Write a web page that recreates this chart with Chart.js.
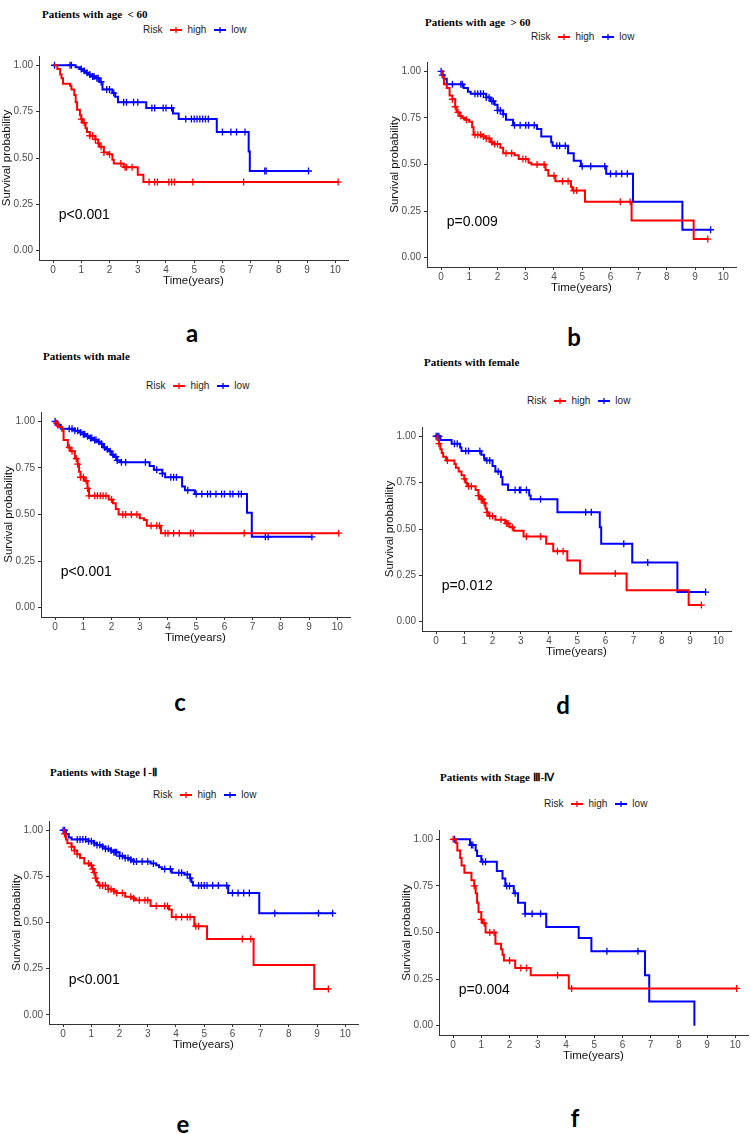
<!DOCTYPE html>
<html>
<head>
<meta charset="utf-8">
<script src="https://cdn.jsdelivr.net/npm/chart.js@4.4.0/dist/chart.umd.min.js"></script>
<style>
  html, body { margin: 0; padding: 0; background: #fff; }
  #page { position: relative; width: 751px; height: 1134px; overflow: hidden; font-family: "Liberation Sans", Arial, sans-serif; }
  #page canvas { position: absolute; }
  .ptitle { position: absolute; font: bold 11px "Liberation Serif", "Times New Roman", serif; line-height: 14px; white-space: pre; color: #000; }
  .legend { position: absolute; display: flex; align-items: center; font-size: 10px; line-height: 14px; white-space: nowrap; color: #222; }
  .legend svg { display: block; }
  .letter { position: absolute; font: bold 24px Lato, "Open Sans", sans-serif; line-height: 1; transform: translate(-50%, -50%); color: #000; }
</style>
</head>
<body>
<div id="page"></div>
<script>
// ---- shared axis ticks / groups ----
const xTicks = [0, 1, 2, 3, 4, 5, 6, 7, 8, 9, 10];
const yTicks = [0, 0.25, 0.5, 0.75, 1];
const riskGroups = ["high", "low"];

// ---- a: age < 60 ----
const aHighTime = [0, 0.15, 0.25, 0.3, 0.35, 0.6, 0.65, 0.75, 0.8, 0.85, 0.95, 1.0, 1.05, 1.15, 1.2, 1.3, 1.5, 1.6, 1.65, 1.8, 1.95, 2.1, 2.15, 2.5, 3.0, 3.2, 10.1];
const aHighSurv = [1.0, 0.98, 0.95, 0.93, 0.90, 0.89, 0.87, 0.84, 0.80, 0.76, 0.73, 0.71, 0.69, 0.66, 0.64, 0.62, 0.60, 0.58, 0.56, 0.53, 0.52, 0.49, 0.47, 0.45, 0.41, 0.37, 0.37];
const aHighCensor = [1.0, 1.1, 1.3, 1.4, 1.5, 1.6, 1.7, 1.8, 2.0, 2.4, 2.55, 2.6, 2.8, 3.4, 3.6, 3.7, 4.1, 4.2, 4.3, 4.95, 6.75, 10.1];
const aLowTime = [0, 0.8, 0.95, 1.05, 1.15, 1.25, 1.35, 1.5, 1.65, 1.75, 2.1, 2.2, 2.3, 3.3, 4.25, 4.45, 5.8, 6.93, 6.97, 9.05];
const aLowSurv = [1.0, 0.99, 0.98, 0.97, 0.96, 0.95, 0.94, 0.93, 0.91, 0.87, 0.85, 0.83, 0.80, 0.77, 0.74, 0.71, 0.64, 0.535, 0.43, 0.43];
const aLowCensor = [0.05, 0.6, 0.65, 1.0, 1.1, 1.2, 1.3, 1.4, 1.45, 1.55, 1.6, 1.7, 1.9, 2.0, 2.15, 2.5, 2.6, 2.85, 3.0, 3.5, 3.6, 3.9, 4.0, 4.2, 4.7, 4.9, 5.0, 5.1, 5.2, 5.3, 5.4, 5.5, 6.0, 6.3, 6.5, 6.8, 7.5, 7.55, 9.05];

// ---- b: age > 60 ----
const bHighTime = [0, 0.05, 0.1, 0.2, 0.3, 0.4, 0.5, 0.55, 0.65, 0.75, 0.85, 1.0, 1.1, 1.15, 1.5, 1.6, 1.75, 1.85, 2.1, 2.2, 2.6, 2.75, 3.1, 3.2, 3.7, 3.8, 4.05, 4.6, 4.65, 5.1, 6.75, 8.95, 9.45];
const bHighSurv = [1.0, 0.97, 0.93, 0.91, 0.87, 0.85, 0.81, 0.78, 0.76, 0.75, 0.74, 0.73, 0.70, 0.66, 0.65, 0.64, 0.62, 0.61, 0.59, 0.56, 0.55, 0.53, 0.51, 0.50, 0.47, 0.44, 0.41, 0.38, 0.36, 0.30, 0.20, 0.10, 0.10];
const bHighCensor = [0.4, 0.5, 0.6, 0.7, 0.9, 1.2, 1.3, 1.4, 1.5, 1.6, 1.7, 1.8, 1.9, 2.0, 2.3, 2.5, 2.9, 3.0, 3.4, 3.65, 4.0, 4.3, 4.5, 4.7, 4.8, 6.35, 6.7, 9.45];
const bLowTime = [0, 0.05, 0.1, 0.2, 0.8, 0.95, 1.05, 1.6, 1.75, 1.9, 2.0, 2.2, 2.3, 2.55, 3.4, 3.55, 3.9, 3.95, 4.5, 4.7, 4.95, 5.85, 6.8, 8.55, 9.55];
const bLowSurv = [1.0, 0.98, 0.96, 0.93, 0.91, 0.89, 0.88, 0.86, 0.84, 0.82, 0.79, 0.77, 0.74, 0.71, 0.69, 0.65, 0.62, 0.60, 0.56, 0.52, 0.49, 0.45, 0.30, 0.15, 0.15];
const bLowCensor = [0.0, 0.05, 0.4, 0.7, 0.75, 1.2, 1.3, 1.4, 1.5, 1.6, 1.7, 1.8, 1.85, 2.0, 2.1, 2.2, 2.6, 2.8, 3.0, 3.1, 3.3, 4.1, 4.2, 4.4, 5.0, 5.3, 5.8, 6.0, 6.2, 6.4, 6.6, 9.55];

// ---- c: male ----
const cHighTime = [0, 0.05, 0.1, 0.25, 0.3, 0.45, 0.55, 0.7, 0.8, 0.85, 0.9, 1.05, 1.15, 1.2, 1.9, 2.05, 2.15, 2.25, 3.0, 3.15, 3.25, 3.75, 10.05];
const cHighSurv = [1.0, 0.99, 0.97, 0.95, 0.90, 0.86, 0.84, 0.80, 0.77, 0.73, 0.70, 0.68, 0.64, 0.60, 0.58, 0.56, 0.53, 0.50, 0.48, 0.47, 0.44, 0.40, 0.40];
const cHighCensor = [0.05, 0.5, 0.6, 0.75, 0.8, 0.9, 1.0, 1.1, 1.15, 1.2, 1.4, 1.5, 1.6, 1.7, 1.8, 2.0, 2.4, 2.5, 2.7, 2.9, 3.4, 3.6, 3.7, 3.9, 4.0, 4.2, 4.4, 4.8, 4.9, 6.7, 10.05];
const cLowTime = [0, 0.05, 0.1, 0.2, 0.7, 0.9, 1.0, 1.1, 1.2, 1.35, 1.5, 1.6, 1.7, 1.8, 1.9, 2.0, 2.1, 2.2, 2.3, 3.35, 3.5, 3.8, 3.9, 4.5, 4.6, 4.95, 6.8, 6.97, 9.1];
const cLowSurv = [1.0, 0.99, 0.98, 0.96, 0.95, 0.94, 0.93, 0.92, 0.91, 0.90, 0.89, 0.88, 0.86, 0.85, 0.84, 0.82, 0.81, 0.79, 0.78, 0.76, 0.74, 0.72, 0.70, 0.65, 0.63, 0.61, 0.51, 0.38, 0.38];
const cLowCensor = [0.0, 0.1, 0.5, 0.6, 0.7, 0.8, 0.9, 1.0, 1.05, 1.15, 1.25, 1.3, 1.4, 1.45, 1.55, 1.65, 1.75, 1.85, 1.95, 2.05, 2.15, 2.2, 2.35, 2.5, 3.2, 3.6, 3.8, 4.1, 4.2, 4.3, 4.7, 5.0, 5.2, 5.4, 5.5, 5.7, 5.9, 6.0, 6.2, 6.3, 6.5, 6.6, 7.45, 7.55, 9.1];

// ---- d: female ----
const dHighTime = [0, 0.05, 0.1, 0.15, 0.2, 0.25, 0.35, 0.65, 0.7, 0.8, 0.9, 1.0, 1.05, 1.1, 1.4, 1.5, 1.55, 1.7, 1.75, 1.8, 1.85, 2.1, 2.45, 2.6, 2.75, 3.1, 3.9, 4.15, 4.65, 5.1, 6.75, 8.95, 9.4];
const dHighSurv = [1.0, 0.98, 0.96, 0.93, 0.91, 0.89, 0.87, 0.85, 0.83, 0.81, 0.79, 0.77, 0.75, 0.73, 0.71, 0.68, 0.66, 0.64, 0.61, 0.59, 0.57, 0.55, 0.53, 0.51, 0.49, 0.46, 0.42, 0.38, 0.33, 0.26, 0.17, 0.09, 0.09];
const dHighCensor = [0.1, 0.4, 1.0, 1.15, 1.25, 1.5, 1.6, 1.65, 1.7, 1.8, 1.9, 2.0, 2.3, 2.5, 2.55, 2.7, 3.2, 3.7, 4.3, 4.5, 6.35, 9.4];
const dLowTime = [0, 0.15, 0.55, 0.85, 0.9, 1.6, 1.7, 1.75, 2.0, 2.1, 2.3, 2.35, 2.55, 3.3, 3.35, 4.3, 5.8, 5.85, 6.95, 8.55, 9.55];
const dLowSurv = [1.0, 0.98, 0.96, 0.94, 0.92, 0.90, 0.88, 0.87, 0.84, 0.81, 0.78, 0.74, 0.71, 0.68, 0.66, 0.59, 0.51, 0.42, 0.32, 0.16, 0.16];
const dLowCensor = [0.0, 0.05, 0.1, 0.65, 0.75, 1.05, 1.15, 1.55, 1.8, 1.9, 2.2, 2.8, 2.95, 3.0, 3.2, 3.7, 5.3, 5.5, 6.65, 7.5, 9.55];

// ---- e: stage I-II ----
const eHighTime = [0, 0.05, 0.1, 0.15, 0.3, 0.4, 0.5, 0.6, 0.75, 0.95, 1.05, 1.1, 1.15, 1.2, 1.25, 1.6, 1.8, 1.9, 2.2, 2.5, 2.55, 3.1, 3.75, 3.85, 4.65, 5.1, 6.75, 8.9, 9.4];
const eHighSurv = [1.0, 0.98, 0.95, 0.93, 0.91, 0.89, 0.87, 0.85, 0.82, 0.81, 0.79, 0.77, 0.74, 0.72, 0.70, 0.68, 0.67, 0.66, 0.64, 0.63, 0.62, 0.59, 0.57, 0.53, 0.48, 0.41, 0.27, 0.14, 0.14];
const eHighCensor = [0.05, 0.3, 0.4, 0.5, 0.9, 1.0, 1.05, 1.1, 1.15, 1.3, 1.4, 1.5, 1.6, 1.7, 1.8, 1.9, 2.1, 2.4, 2.5, 2.7, 2.9, 3.0, 3.3, 3.6, 3.7, 4.0, 4.2, 4.4, 4.5, 4.7, 4.8, 6.35, 6.65, 9.4];
const eLowTime = [0, 0.1, 0.2, 0.3, 0.9, 1.1, 1.2, 1.4, 1.5, 1.7, 1.8, 2.0, 2.2, 2.4, 2.5, 3.1, 3.3, 3.4, 3.5, 3.85, 4.3, 4.5, 4.55, 4.6, 5.85, 6.95, 9.55];
const eLowSurv = [1.0, 0.98, 0.96, 0.95, 0.94, 0.93, 0.92, 0.91, 0.90, 0.89, 0.88, 0.86, 0.85, 0.84, 0.83, 0.82, 0.81, 0.80, 0.79, 0.77, 0.76, 0.74, 0.72, 0.70, 0.66, 0.55, 0.55];
const eLowCensor = [0.0, 0.05, 0.5, 0.6, 0.7, 0.8, 0.9, 1.0, 1.1, 1.2, 1.3, 1.4, 1.5, 1.6, 1.7, 1.8, 1.85, 1.9, 2.0, 2.1, 2.2, 2.3, 2.4, 2.5, 2.6, 2.8, 3.0, 3.2, 3.6, 3.8, 4.1, 4.2, 4.4, 4.5, 4.8, 4.9, 5.0, 5.1, 5.3, 5.5, 5.8, 6.0, 6.2, 6.4, 6.6, 7.5, 9.05, 9.55];

// ---- f: stage III-IV ----
const fHighTime = [0, 0.1, 0.15, 0.25, 0.3, 0.4, 0.65, 0.75, 0.8, 0.85, 0.9, 1.0, 1.05, 1.15, 1.5, 1.7, 1.75, 1.8, 2.2, 2.75, 4.1, 10.05];
const fHighSurv = [1.0, 0.98, 0.94, 0.90, 0.86, 0.82, 0.78, 0.75, 0.71, 0.66, 0.61, 0.57, 0.55, 0.50, 0.44, 0.41, 0.38, 0.35, 0.31, 0.27, 0.20, 0.20];
const fHighCensor = [0.0, 0.75, 1.0, 1.1, 1.3, 1.45, 2.0, 2.4, 2.6, 3.7, 4.2, 10.05];
const fLowTime = [0, 0.6, 0.8, 0.85, 1.0, 1.55, 1.75, 1.85, 2.15, 2.3, 2.55, 3.3, 4.45, 4.9, 6.8, 6.95, 8.55];
const fLowSurv = [1.0, 0.97, 0.94, 0.91, 0.88, 0.83, 0.79, 0.75, 0.71, 0.66, 0.60, 0.53, 0.47, 0.40, 0.27, 0.13, 0.0];
const fLowCensor = [0.05, 0.65, 0.7, 1.05, 1.15, 1.9, 2.0, 2.2, 2.55, 2.8, 3.1, 5.45, 6.55];

// ---- page layout (pixel boxes: plot left, top, right, bottom) ----
const panels = [
  { key: "a", title: "Patients with age  < 60", pval: "p<0.001", box: [39, 52, 348, 260], titleAt: [42, 14], legendAt: [143, 30], letterAt: [192, 333],
    high: [aHighTime, aHighSurv, aHighCensor], low: [aLowTime, aLowSurv, aLowCensor] },
  { key: "b", title: "Patients with age  > 60", pval: "p=0.009", box: [427, 58, 736, 267], titleAt: [425, 22], legendAt: [531, 37], letterAt: [574, 337],
    high: [bHighTime, bHighSurv, bHighCensor], low: [bLowTime, bLowSurv, bLowCensor] },
  { key: "c", title: "Patients with male", pval: "p<0.001", box: [41, 408, 350, 617], titleAt: [43, 356], legendAt: [146, 386], letterAt: [180, 702],
    high: [cHighTime, cHighSurv, cHighCensor], low: [cLowTime, cLowSurv, cLowCensor] },
  { key: "d", title: "Patients with female", pval: "p=0.012", box: [422, 423, 731, 631], titleAt: [424, 362], legendAt: [527, 401], letterAt: [563, 705],
    high: [dHighTime, dHighSurv, dHighCensor], low: [dLowTime, dLowSurv, dLowCensor] },
  { key: "e", title: "Patients with Stage \u2160 -\u2161", pval: "p<0.001", box: [49, 817, 358, 1024], titleAt: [50, 772], legendAt: [153, 795], letterAt: [183, 1124],
    high: [eHighTime, eHighSurv, eHighCensor], low: [eLowTime, eLowSurv, eLowCensor] },
  { key: "f", title: "Patients with Stage \u2162-\u2163", pval: "p=0.004", box: [439, 826, 748, 1035], titleAt: [440, 777], legendAt: [544, 804], letterAt: [575, 1118],
    high: [fHighTime, fHighSurv, fHighCensor], low: [fLowTime, fLowSurv, fLowCensor] }
];

const RED = "#ff0000";
const BLUE = "#0000ff";
const Y_AXIS_W = 43, X_AXIS_H = 30, PAD_TOP = 5, PAD_RIGHT = 8;

// step value of a KM curve at time t
function survAt(time, surv, t) {
  let v = surv[0];
  for (let i = 0; i < time.length; i++) {
    if (time[i] <= t) v = surv[i];
  }
  return v;
}

const pvalPlugin = {
  id: "pval",
  afterDatasetsDraw(chart, args, opts) {
    if (!opts.text) return;
    const { ctx, scales: { x, y } } = chart;
    ctx.save();
    ctx.font = '14px "Liberation Sans", Arial, sans-serif';
    ctx.fillStyle = "#000";
    ctx.textAlign = "left";
    ctx.textBaseline = "middle";
    ctx.fillText(opts.text, x.getPixelForValue(0.2), y.getPixelForValue(0.19));
    ctx.restore();
  }
};

const page = document.getElementById("page");

function addDiv(cls, html, left, top) {
  const d = document.createElement("div");
  d.className = cls;
  d.innerHTML = html;
  d.style.left = left + "px";
  d.style.top = top + "px";
  page.appendChild(d);
  return d;
}

function keySvg(color) {
  return '<svg width="12" height="8"><line x1="0" y1="4" x2="12" y2="4" stroke="' + color + '" stroke-width="2"/>' +
         '<line x1="6" y1="1" x2="6" y2="7" stroke="' + color + '" stroke-width="1.3"/></svg>';
}

panels.forEach(p => {
  const [L, T, R, B] = p.box;

  // title, legend, letter
  addDiv("ptitle", p.title, p.titleAt[0], p.titleAt[1] - 7);
  addDiv("legend",
    '<span>Risk</span><span style="margin-left:8px">' + keySvg(RED) + '</span><span style="margin-left:5px">' + riskGroups[0] + '</span>' +
    '<span style="margin-left:8px">' + keySvg(BLUE) + '</span><span style="margin-left:5px">' + riskGroups[1] + '</span>',
    p.legendAt[0], p.legendAt[1] - 7);
  addDiv("letter", p.key, p.letterAt[0], p.letterAt[1]);

  const canvas = document.createElement("canvas");
  canvas.width = Y_AXIS_W + (R - L) + PAD_RIGHT;
  canvas.height = PAD_TOP + (B - T) + X_AXIS_H;
  canvas.style.left = (L - Y_AXIS_W) + "px";
  canvas.style.top = (T - PAD_TOP) + "px";
  page.appendChild(canvas);

  const curve = (g) => g[0].map((t, i) => ({ x: t, y: g[1][i] }));
  const marks = (g) => g[2].map(t => ({ x: t, y: survAt(g[0], g[1], t) }));

  new Chart(canvas, {
    type: "scatter",
    data: {
      datasets: [
        { label: "high", data: curve(p.high), showLine: true, stepped: "before", borderColor: RED, borderWidth: 2, pointRadius: 0 },
        { label: "low", data: curve(p.low), showLine: true, stepped: "before", borderColor: BLUE, borderWidth: 2, pointRadius: 0 },
        { label: "high censored", data: marks(p.high), showLine: false, pointStyle: "cross", pointRadius: 3.5, borderColor: RED, borderWidth: 1.3 },
        { label: "low censored", data: marks(p.low), showLine: false, pointStyle: "cross", pointRadius: 3.5, borderColor: BLUE, borderWidth: 1.3 }
      ]
    },
    options: {
      responsive: false,
      animation: false,
      layout: { padding: { top: PAD_TOP, right: PAD_RIGHT, left: 0, bottom: 0 } },
      plugins: { legend: { display: false }, tooltip: { enabled: false }, pval: { text: p.pval } },
      scales: {
        x: {
          type: "linear", min: -0.5, max: 10.45,
          afterBuildTicks: s => { s.ticks = xTicks.map(v => ({ value: v })); },
          afterFit: s => { s.height = X_AXIS_H; },
          grid: { drawOnChartArea: false, drawTicks: true, tickLength: 3, color: "#333" },
          border: { display: true, color: "#333", width: 1 },
          ticks: { font: { size: 10, family: '"Liberation Sans", Arial, sans-serif' }, color: "#4d4d4d", padding: 1, maxRotation: 0, autoSkip: false },
          title: { display: true, text: "Time(years)", color: "#111", font: { size: 11.5, family: '"Liberation Sans", Arial, sans-serif' }, padding: { top: 0, bottom: 2 } }
        },
        y: {
          type: "linear", min: -0.05, max: 1.05,
          afterBuildTicks: s => { s.ticks = yTicks.map(v => ({ value: v })); },
          afterFit: s => { s.width = Y_AXIS_W; },
          grid: { drawOnChartArea: false, drawTicks: true, tickLength: 3, color: "#333" },
          border: { display: true, color: "#333", width: 1 },
          ticks: { font: { size: 10, family: '"Liberation Sans", Arial, sans-serif' }, color: "#4d4d4d", padding: 3, callback: v => v.toFixed(2) },
          title: { display: true, text: "Survival probability", color: "#111", font: { size: 11.5, family: '"Liberation Sans", Arial, sans-serif' }, padding: { top: 4, bottom: 0 } }
        }
      }
    },
    plugins: [pvalPlugin]
  });
});
</script>
</body>
</html>
